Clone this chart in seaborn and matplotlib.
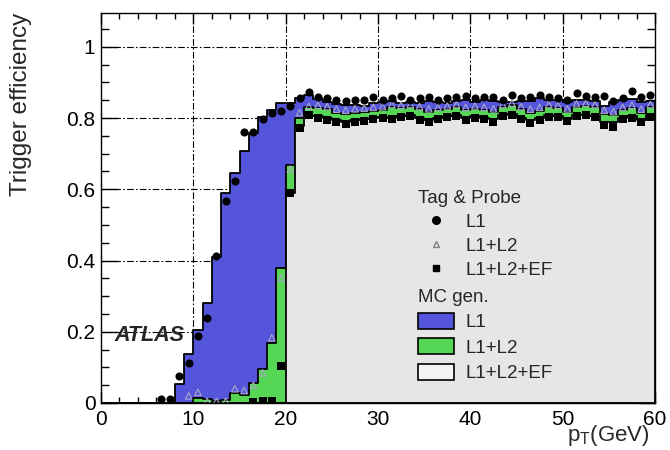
import numpy as np
import pandas as pd
import matplotlib
matplotlib.use("Agg")
import matplotlib.pyplot as plt
from matplotlib.lines import Line2D
from matplotlib.patches import Patch
from matplotlib.ticker import MultipleLocator, FuncFormatter
import seaborn as sns

# ---------------- data ----------------
bin_edges = [float(v) for v in range(0, 61)]      # 1 GeV bins, 0..60
bin_centers = [v + 0.5 for v in bin_edges[:-1]]

# MC generator-level efficiencies per bin (0..59)
mc_l1 = [0, 0, 0, 0, 0, 0, 0, 0,
         0.053, 0.138, 0.205, 0.282, 0.411, 0.591, 0.647, 0.708, 0.757, 0.804,
         0.823, 0.842, 0.843, 0.857, 0.865,
         0.853, 0.846, 0.840, 0.836, 0.838, 0.835, 0.842, 0.846, 0.848, 0.843,
         0.846, 0.842, 0.848, 0.845, 0.843, 0.849, 0.850, 0.846, 0.852, 0.848,
         0.846, 0.844, 0.847, 0.849, 0.855, 0.852, 0.850, 0.846, 0.850, 0.852,
         0.848, 0.835, 0.845, 0.850, 0.853, 0.845, 0.848]
mc_l1l2 = [0, 0, 0, 0, 0, 0, 0, 0, 0, 0,
           0.013, 0.010, 0.005, 0.008, 0.029, 0.022, 0.057, 0.096, 0.168, 0.380,
           0.669, 0.800, 0.830,
           0.828, 0.826, 0.815, 0.812, 0.815, 0.818, 0.820, 0.823, 0.830, 0.828,
           0.832, 0.825, 0.818, 0.822, 0.826, 0.830, 0.822, 0.826, 0.822, 0.818,
           0.830, 0.836, 0.825, 0.815, 0.820, 0.830, 0.828, 0.818, 0.832, 0.834,
           0.830, 0.812, 0.808, 0.822, 0.828, 0.815, 0.830]
mc_l1l2ef = [0] * 20 + [
           0.590, 0.777, 0.805,
           0.805, 0.800, 0.795, 0.790, 0.795, 0.798, 0.800, 0.803, 0.800, 0.805,
           0.808, 0.800, 0.795, 0.800, 0.805, 0.808, 0.800, 0.805, 0.800, 0.798,
           0.810, 0.812, 0.800, 0.795, 0.800, 0.808, 0.806, 0.798, 0.810, 0.810,
           0.806, 0.790, 0.788, 0.800, 0.805, 0.795, 0.808]

# Tag & Probe measurements (bin centres)
tp_l1_x = np.arange(6.5, 60.0, 1.0)
tp_l1_y = [0.012, 0.012, 0.076, 0.113, 0.188, 0.240, 0.413, 0.568, 0.624,
           0.760, 0.760, 0.797, 0.814, 0.820, 0.834, 0.856, 0.872,
           0.858, 0.855, 0.850, 0.848, 0.852, 0.850, 0.858, 0.852, 0.855,
           0.862, 0.850, 0.855, 0.860, 0.852, 0.855, 0.858, 0.862, 0.855,
           0.858, 0.860, 0.852, 0.865, 0.856, 0.858, 0.866, 0.858, 0.855,
           0.852, 0.870, 0.862, 0.858, 0.862, 0.848, 0.856, 0.875, 0.858, 0.866]
tp_l1l2_x = np.arange(9.5, 60.0, 1.0)
tp_l1l2_y = [0.020, 0.030, 0.005, 0.005, 0.005, 0.040, 0.035, 0.050, 0.085,
             0.183, 0.351, 0.657, 0.815, 0.833,
             0.836, 0.832, 0.825, 0.822, 0.826, 0.828, 0.830, 0.832, 0.838,
             0.836, 0.838, 0.832, 0.826, 0.830, 0.834, 0.838, 0.830, 0.834,
             0.830, 0.826, 0.838, 0.842, 0.832, 0.825, 0.830, 0.838, 0.836,
             0.826, 0.840, 0.842, 0.838, 0.822, 0.818, 0.830, 0.836, 0.825, 0.838]
tp_l1l2ef_x = np.arange(16.5, 60.0, 1.0)
tp_l1l2ef_y = [0.003, 0.005, 0.005, 0.104, 0.590, 0.771, 0.808,
               0.800, 0.795, 0.788, 0.782, 0.790, 0.792, 0.796, 0.800, 0.798,
               0.802, 0.806, 0.795, 0.788, 0.796, 0.802, 0.806, 0.795, 0.800,
               0.796, 0.790, 0.806, 0.810, 0.796, 0.786, 0.795, 0.804, 0.802,
               0.792, 0.806, 0.808, 0.802, 0.780, 0.776, 0.796, 0.800, 0.790, 0.804]

x_ticks = [0, 10, 20, 30, 40, 50, 60]
y_ticks = [0, 0.2, 0.4, 0.6, 0.8, 1.0]

# ---------------- style ----------------
sns.set_style("ticks")
plt.rcParams["font.family"] = ["Liberation Sans", "DejaVu Sans"]
plt.rcParams["mathtext.default"] = "regular"

c_blue = "#5555dc"
c_green = "#55d655"
c_grey = "#e6e6e6"

fig = plt.figure(figsize=(6.7, 4.5), dpi=100)
ax = fig.add_axes([101 / 670, 47 / 450, 554 / 670, 390 / 450])

# grid behind everything
for xv in x_ticks[1:-1]:
    ax.axvline(xv, color="black", lw=0.8, ls=(0, (6, 2, 1.5, 2)), zorder=0)
for yv in y_ticks[1:]:
    ax.axhline(yv, color="black", lw=0.8, ls=(0, (6, 2, 1.5, 2)), zorder=0)

# MC histograms
for vals, col, z in [(mc_l1, c_blue, 1), (mc_l1l2, c_green, 2), (mc_l1l2ef, c_grey, 3)]:
    df = pd.DataFrame({"pt": bin_centers, "eff": [float(v) for v in vals]})
    sns.histplot(data=df, x="pt", weights="eff", bins=bin_edges, element="step",
                 fill=True, color=col, alpha=1, edgecolor="black", linewidth=1.3,
                 ax=ax, zorder=z)

# Tag & Probe points
sns.scatterplot(x=tp_l1_x, y=tp_l1_y, marker="o", color="black", s=34,
                linewidth=0, ax=ax, zorder=6, legend=False)
sns.scatterplot(x=tp_l1l2_x, y=tp_l1l2_y, marker="^", s=22, facecolor="none",
                edgecolor="#a8a8c8", linewidth=0.8, ax=ax, zorder=5, legend=False)
sns.scatterplot(x=tp_l1l2ef_x, y=tp_l1l2ef_y, marker="s", color="black", s=30,
                linewidth=0, ax=ax, zorder=5, legend=False)

# axes
ax.set_xlim(0, 60)
ax.set_ylim(0, 1.095)
ax.set_xticks(x_ticks)
ax.set_yticks(y_ticks)
ax.yaxis.set_major_formatter(FuncFormatter(lambda v, p: f"{v:g}"))
ax.xaxis.set_minor_locator(MultipleLocator(2))
ax.yaxis.set_minor_locator(MultipleLocator(0.05))
ax.tick_params(axis="both", which="both", direction="in", top=True, right=True,
               labelsize=15, colors="black", width=1)
ax.tick_params(axis="y", which="major", length=11.5, pad=4)
ax.tick_params(axis="y", which="minor", length=6)
ax.tick_params(axis="x", which="major", length=8, pad=5)
ax.tick_params(axis="x", which="minor", length=4)
for sp in ax.spines.values():
    sp.set_color("black")
    sp.set_linewidth(1.0)
    sp.set_zorder(10)

ax.set_xlabel("p$_{T}$(GeV)", fontsize=16, loc="right")
ax.xaxis.set_label_coords(0.99, -0.052)
ax.set_ylabel("Trigger efficiency", fontsize=17.5, loc="top", labelpad=25)

ax.text(0.025, 0.172, "ATLAS", transform=ax.transAxes, fontsize=15.5,
        fontweight="bold", fontstyle="italic", va="center", ha="left", zorder=7)

# legends
hl = 1.95
tp_handles = [Line2D([], [], marker="o", color="black", ls="none", markersize=5.5),
              Line2D([], [], marker="^", markerfacecolor="none", markeredgecolor="#808080",
                     ls="none", markersize=4.5),
              Line2D([], [], marker="s", color="black", ls="none", markersize=5)]
leg1 = ax.legend(tp_handles, ["L1", "L1+L2", "L1+L2+EF"], title="Tag & Probe",
                 alignment="left", frameon=False, loc="upper left",
                 bbox_to_anchor=(0.5715, 0.547), borderpad=0, borderaxespad=0,
                 fontsize=13.5, title_fontsize=13.5, handlelength=hl,
                 handletextpad=0.6, labelspacing=0.37)
ax.add_artist(leg1)
mc_handles = [Patch(facecolor=c_blue, edgecolor="black", lw=1.2),
              Patch(facecolor=c_green, edgecolor="black", lw=1.2),
              Patch(facecolor="#f4f4f4", edgecolor="black", lw=1.2)]
leg2 = ax.legend(mc_handles, ["L1", "L1+L2", "L1+L2+EF"], title="MC gen.",
                 alignment="left", frameon=False, loc="upper left",
                 bbox_to_anchor=(0.5715, 0.293), borderpad=0, borderaxespad=0,
                 fontsize=13.5, title_fontsize=13.5, handlelength=hl,
                 handleheight=0.95, handletextpad=0.6, labelspacing=0.37)
leg1.set_zorder(8)
leg2.set_zorder(8)

fig.savefig("out.png", dpi=100)
